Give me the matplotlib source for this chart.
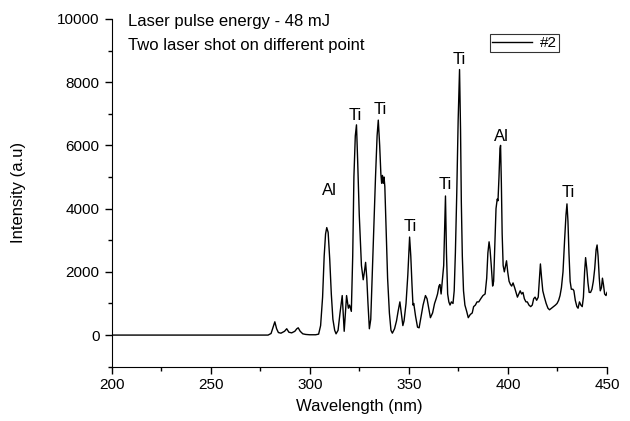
import matplotlib
matplotlib.use("Agg")
import matplotlib.pyplot as plt
from matplotlib.ticker import MultipleLocator

plt.rcParams['font.family'] = ['Liberation Sans', 'DejaVu Sans']

# wavelength (nm) and intensity (a.u)
wavelength = [200, 240, 270, 279, 280.5, 281.5, 282.4, 283.3, 284.2, 285.5, 287.3, 288.4, 289.5,
              290.9, 292.5, 293.5, 294.2, 295.2, 296.5, 298, 300, 303, 304.5, 305.5, 306.5, 307.3,
              308, 308.6, 309.3, 310.1, 310.9, 311.7, 312.6, 313.3, 314.3, 315.3, 316.4, 317.4,
              318.6, 319.5, 320.1, 321, 321.7, 322.3, 323, 323.6, 324.2, 325, 326.1, 327, 327.6,
              328.2, 328.8, 329.4, 330.1, 330.8, 331.5, 332.2, 333.2, 334, 334.6, 335.3, 335.9,
              336.3, 336.7, 337.1, 337.5, 337.9, 338.5, 339.3, 340.2, 341, 341.7, 342.8, 343.8,
              344.6, 345.5, 346.2, 347, 347.6, 348.6, 349.5, 350.4, 351, 351.6, 352.1, 352.5,
              353.4, 354.4, 355.2, 356.2, 357.2, 358.4, 359.2, 360.3, 360.9, 362, 363, 363.8,
              364.5, 365.2, 365.7, 366.3, 366.9, 367.6, 368, 368.5, 369, 369.6, 370.2, 370.8,
              371.5, 372.3, 372.9, 373.5, 374.2, 374.9, 375.6, 376.1, 376.5, 377, 377.6, 378.3,
              379.2, 380, 381, 382, 382.7, 383.6, 384.4, 385.3, 386.3, 387.4, 388.5, 389.3, 389.9,
              390.5, 391, 391.6, 392.3, 392.8, 393.4, 394, 394.6, 395, 395.5, 396, 396.3, 396.7,
              397.1, 397.6, 398.2, 398.8, 399.3, 399.9, 400.6, 401.3, 401.9, 402.6, 403.4, 404.1,
              404.8, 405.5, 406.2, 406.9, 407.6, 408.3, 409.1, 409.8, 410.6, 411.5, 412.3, 413,
              413.7, 414.5, 415.3, 415.9, 416.4, 417, 417.6, 418.4, 419.3, 420.2, 421, 422, 423,
              424, 424.8, 425.6, 426.3, 427, 427.8, 428.6, 429.3, 429.8, 430.3, 430.8, 431.4, 432,
              432.8, 433.3, 434, 434.8, 435.4, 436.1, 436.8, 437.5, 438.1, 438.7, 439.2, 439.8,
              440.4, 441, 441.7, 442.4, 443.1, 443.8, 444.5, 445, 445.5, 446.1, 446.6, 447.2,
              447.7, 448.2, 448.8, 449.5, 450]
intensity = [0, 0, 0, 0, 50, 250, 420, 200, 80, 60, 120, 200, 90,
             70, 120, 200, 230, 120, 40, 20, 10, 10, 30, 300, 1200, 2500,
             3200, 3400, 3250, 2400, 1300, 500, 150, 40, 150, 700, 1250, 120,
             1250, 850, 950, 750, 2500, 5000, 6300, 6650, 5500, 3800, 2200, 1750, 2000,
             2300, 1800, 1000, 200, 500, 1800, 3000, 5000, 6300, 6800, 6000, 5100,
             4800, 5050, 4800, 5000, 4700, 3500, 1800, 700, 150, 60, 200, 450,
             750, 1050, 700, 300, 450, 1000, 1900, 3100, 2500, 1600, 950, 1000,
             600, 250, 230, 600, 950, 1250, 1150, 750, 550, 700, 1000, 1150,
             1300, 1550, 1600, 1300, 1700, 2200, 3200, 4400, 2600, 1300, 1050, 950,
             1050, 1000, 1400, 2600, 4500, 6800, 8400, 6500, 4200, 2500, 1400, 950,
             750, 550, 650, 700, 900, 950, 1050, 1050, 1150, 1250, 1300, 1800, 2600,
             2950, 2700, 2200, 1550, 1700, 2800, 4000, 4300, 4250, 5000, 5900, 6000, 4800,
             3200, 2200, 2000, 2200, 2350, 2000, 1700, 1600, 1550, 1650, 1500, 1350,
             1200, 1300, 1400, 1300, 1350, 1150, 1050, 1050, 950, 900, 950, 1150,
             1200, 1100, 1200, 1800, 2250, 1800, 1400, 1200, 1000, 850, 800, 850, 900,
             950, 1000, 1100, 1250, 1500, 2000, 3000, 3800, 4150, 3600, 2600, 1700, 1450,
             1450, 1400, 1100, 900, 850, 1050, 950, 900, 1200, 2000, 2450, 2100,
             1650, 1350, 1350, 1450, 1700, 2100, 2700, 2850, 2500, 1800, 1400, 1500,
             1800, 1600, 1300, 1250, 1350]

# peak labels
peak_names = ['Al', 'Ti', 'Ti', 'Ti', 'Ti', 'Ti', 'Al', 'Ti']
peak_x = [310, 322.8, 335.4, 350.5, 368.2, 375.7, 396.8, 430.2]
peak_y = [4560, 6960, 7150, 3430, 4750, 8720, 6270, 4500]

fig = plt.figure(figsize=(6.3, 4.21), dpi=100)
ax = fig.add_axes([0.177, 0.129, 0.7865, 0.826])

ax.plot(wavelength, intensity, color='black', linewidth=1.0, label='#2')

for name, x, y in zip(peak_names, peak_x, peak_y):
    ax.text(x, y, name, ha='center', va='center', fontsize=12)

ax.text(208.5, 9920, 'Laser pulse energy - 48 mJ', ha='left', va='center', fontsize=12)
ax.text(208.5, 9170, 'Two laser shot on different point', ha='left', va='center', fontsize=12)

leg = ax.legend(loc='upper left', bbox_to_anchor=(0.764, 0.957), fontsize=11,
                frameon=True, fancybox=False, handlelength=2.6, borderpad=0.15,
                handletextpad=0.5, borderaxespad=0)
leg.get_frame().set_edgecolor('black')
leg.get_frame().set_linewidth(0.8)

ax.set_xlim(200, 450)
ax.set_ylim(-1000, 10000)
ax.set_yticks([0, 2000, 4000, 6000, 8000, 10000])
ax.xaxis.set_major_locator(MultipleLocator(50))
ax.xaxis.set_minor_locator(MultipleLocator(25))
ax.yaxis.set_minor_locator(MultipleLocator(1000))
ax.spines['top'].set_visible(False)
ax.spines['right'].set_visible(False)
ax.tick_params(which='major', direction='out', length=5, width=1, labelsize=11)
ax.tick_params(which='minor', direction='out', length=3, width=1)

ax.set_xlabel('Wavelength (nm)', fontsize=12)
ax.set_ylabel('Intensity (a.u)', fontsize=12)
ax.xaxis.set_label_coords(0.5, -0.093)
ax.yaxis.set_label_coords(-0.172, 0.5)

plt.savefig('out.png', dpi=100)
